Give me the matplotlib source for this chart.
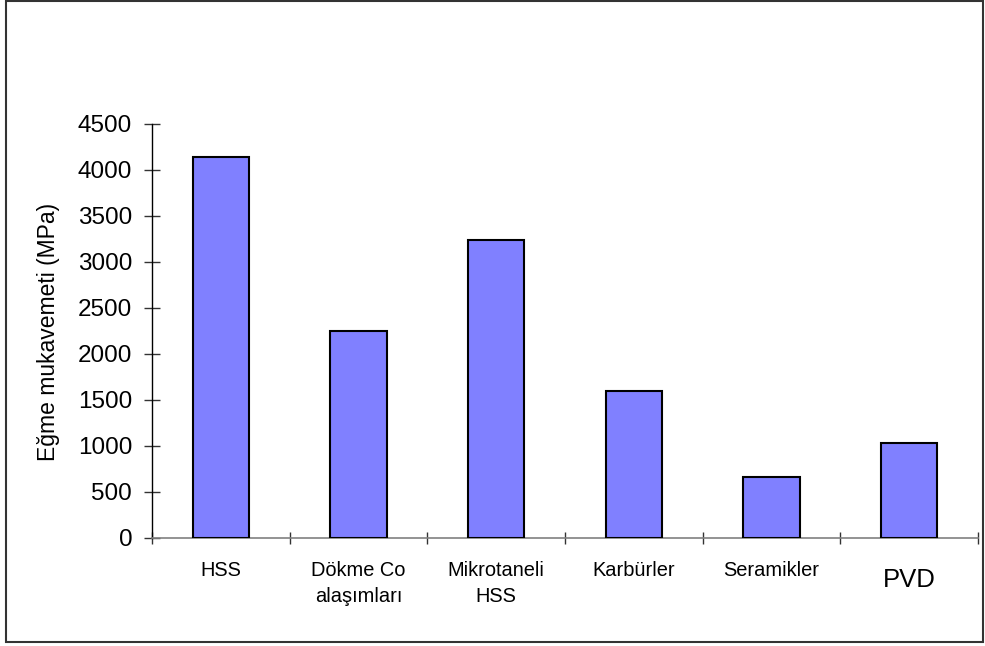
import matplotlib
matplotlib.use("Agg")
import matplotlib.pyplot as plt
from matplotlib.patches import Rectangle

categories = ["HSS", "Dökme Co\nalaşımları", "Mikrotaneli\nHSS", "Karbürler", "Seramikler", "PVD"]
values = [4140, 2250, 3235, 1600, 655, 1025]
yticks = [0, 500, 1000, 1500, 2000, 2500, 3000, 3500, 4000, 4500]

plt.rcParams['font.family'] = ['Liberation Sans', 'DejaVu Sans']

fig = plt.figure(figsize=(9.85, 6.46), dpi=100)
ax = fig.add_axes([152/985, 1-537.7/646, (978-152)/985, (537.7-124)/646])

x = list(range(len(categories)))
ax.bar(x, values, width=0.41, color='#8080FF', edgecolor='black', linewidth=1.5, zorder=3)

ax.set_xlim(-0.5, len(categories)-0.5)
ax.set_ylim(0, 4500)
ax.set_yticks(yticks)
ax.set_yticklabels([str(v) for v in yticks], fontsize=17.5)
ax.tick_params(axis='y', direction='inout', length=11.5, width=1, color='#333333', pad=8.5)

ax.set_xticks([i - 0.5 for i in range(len(categories)+1)])
ax.set_xticklabels([])
ax.tick_params(axis='x', direction='inout', length=8, width=1, color='#333333')

for i, lab in enumerate(categories):
    fs = 18.5 if lab == "PVD" else 14.4
    dy = -30 if lab == "PVD" else -23
    ax.annotate(lab, xy=(i, 0), xycoords='data', xytext=(0, dy), textcoords='offset pixels',
                ha='center', va='top', fontsize=fs, linespacing=1.5, annotation_clip=False)

for s in ['top', 'right']:
    ax.spines[s].set_visible(False)
ax.spines['left'].set_color('black')
ax.spines['left'].set_linewidth(1)
ax.spines['bottom'].set_color('#808080')
ax.spines['bottom'].set_linewidth(1.2)

ax.set_ylabel("Eğme mukavemeti (MPa)", fontsize=16.5, va='center')
ax.yaxis.set_label_coords(49/985, 1-332/646, transform=fig.transFigure)

fig.patches.append(Rectangle((5.5/985, 4/646), (983-5.5)/985, (646-4-0.5)/646, transform=fig.transFigure,
                             fill=False, edgecolor='#333333', linewidth=1.5))

fig.savefig("out.png", dpi=100)
